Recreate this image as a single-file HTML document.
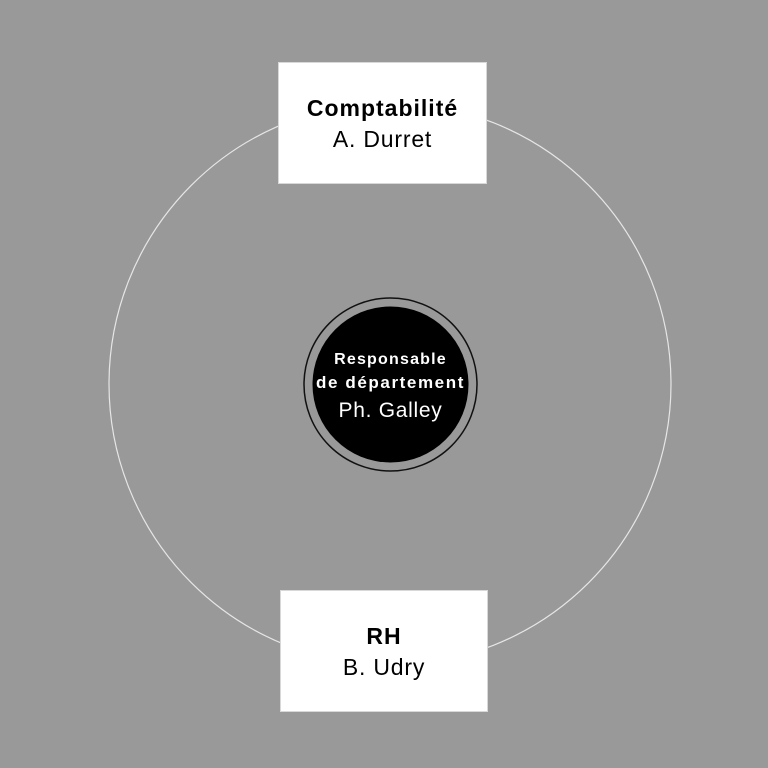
<!DOCTYPE html>
<html><head><meta charset="utf-8"><style>
html,body{margin:0;padding:0;background:#999;}
body{width:768px;height:768px;position:relative;overflow:hidden;font-family:"Liberation Sans",sans-serif;}
.box{position:absolute;background:#fff;border:1px solid #d8d8d8;box-sizing:border-box;text-align:center;color:#000;font-size:23px;letter-spacing:0.8px;}
.box b{display:block;letter-spacing:1px;}
</style></head><body>
<svg width="768" height="768" style="position:absolute;left:0;top:0">
<circle cx="390" cy="384" r="281" fill="none" stroke="#e6e6e6" stroke-width="1.2"/>
<circle cx="390.5" cy="384.5" r="86.5" fill="#999" stroke="#111" stroke-width="1.5"/>
<circle cx="390.5" cy="384.5" r="78" fill="#000"/>
<text x="390.5" y="364" fill="#fff" font-family="Liberation Sans, sans-serif" font-weight="bold" font-size="16" letter-spacing="1.2" text-anchor="middle">Responsable</text>
<text x="390.5" y="388" fill="#fff" font-family="Liberation Sans, sans-serif" font-weight="bold" font-size="17" letter-spacing="1.6" text-anchor="middle">de département</text>
<text x="390.5" y="417" fill="#fff" font-family="Liberation Sans, sans-serif" font-size="21" letter-spacing="0.7" text-anchor="middle">Ph. Galley</text>
</svg>
<div class="box" style="left:278px;top:62px;width:209px;height:122px;padding-top:30px;line-height:31px;"><b>Comptabilité</b>A. Durret</div>
<div class="box" style="left:280px;top:590px;width:208px;height:122px;padding-top:30px;line-height:31px;"><b>RH</b>B. Udry</div>
</body></html>
